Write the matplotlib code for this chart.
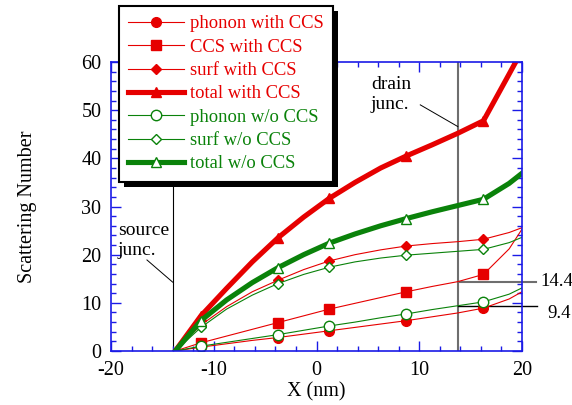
import matplotlib
matplotlib.use("Agg")
import matplotlib.pyplot as plt
from matplotlib.patches import Rectangle
from matplotlib.ticker import MultipleLocator

plt.rcParams['font.family'] = 'Liberation Serif'
plt.rcParams['axes.unicode_minus'] = False

# position along channel (nm), markers only every few points
x = [-13.75, -11.25, -8.75, -6.25, -3.75, -1.25, 1.25, 3.75, 6.25, 8.75,
     11.25, 13.75, 16.25, 18.75, 20.0]
marker_idx = [1, 4, 6, 9, 12]

phonon_w = [0, 0.8, 1.5, 2.2, 2.8, 3.5, 4.2, 4.9, 5.6, 6.3, 7.1, 7.9, 8.9, 10.8, 12.3]
ccs_w = [0, 1.7, 3.1, 4.5, 5.9, 7.3, 8.7, 9.9, 11.1, 12.3, 13.4, 14.4, 15.9, 21.2, 25.3]
surf_w = [0, 5.4, 9.2, 12.3, 14.7, 16.9, 18.7, 20.0, 21.0, 21.8, 22.3, 22.7, 23.2, 24.6, 25.6]
total_w = [0, 7.3, 13.0, 18.5, 23.5, 27.8, 31.7, 35.0, 38.0, 40.5, 42.8, 45.2, 47.8, 57.5, 62.4]
phonon_wo = [0, 1.0, 1.8, 2.6, 3.4, 4.3, 5.2, 6.0, 6.9, 7.7, 8.6, 9.4, 10.2, 11.8, 13.1]
surf_wo = [0, 4.9, 8.7, 11.6, 14.0, 15.9, 17.4, 18.5, 19.3, 19.9, 20.3, 20.7, 21.1, 22.5, 23.6]
total_wo = [0, 6.3, 10.6, 14.2, 17.3, 20.0, 22.4, 24.3, 26.0, 27.5, 28.9, 30.2, 31.5, 34.8, 36.9]

source_x = -14.0
drain_x = 13.75
ccs_at_drain = 14.4
phonon_at_drain = 9.4

RED = '#e60000'
GREEN = '#0a820a'
BLUE = '#1a1ae6'

fig = plt.figure(figsize=(5.72, 4.05), dpi=100)
ax = fig.add_axes([111/572, 1-351/405, 411/572, 289/405])

series = [
    ("phonon with CCS", phonon_w, RED, 'o', 0.8, 7.0, True),
    ("CCS with CCS", ccs_w, RED, 's', 0.8, 6.5, True),
    ("surf with CCS", surf_w, RED, 'D', 0.8, 5.5, True),
    ("total with CCS", total_w, RED, '^', 3.7, 7.5, True),
    ("phonon w/o CCS", phonon_wo, GREEN, 'o', 0.8, 7.5, False),
    ("surf w/o CCS", surf_wo, GREEN, 'D', 0.8, 5.5, False),
    ("total w/o CCS", total_wo, GREEN, '^', 3.7, 7.5, False),
]

handles = []
for label, y, c, m, lw, ms, filled in series:
    h, = ax.plot(x, y, color=c, lw=lw, marker=m, ms=ms, markevery=marker_idx,
                 markerfacecolor=c if filled else 'white', markeredgecolor=c,
                 markeredgewidth=1.0, label=label)
    handles.append(h)

# junction markers
ax.axvline(source_x, color='black', lw=0.8, zorder=1)
ax.axvline(drain_x, color='#6e6e6e', lw=1.5, zorder=1)
ax.plot([drain_x, 21.4], [ccs_at_drain, ccs_at_drain], color='#6e6e6e', lw=1.5,
        clip_on=False, zorder=1)
ax.plot([drain_x, 21.5], [phonon_at_drain, phonon_at_drain], color='black', lw=1.0,
        clip_on=False, zorder=1)
ax.text(21.75, ccs_at_drain, "14.4", fontsize=13.5, ha='left', va='center')
ax.text(22.5, phonon_at_drain + 0.1, "9.4", fontsize=13.5, ha='left', va='top')

ax.text(-19.35, 26.8, "source\njunc.", fontsize=14, ha='left', va='top', linespacing=1.2)
ax.plot([-16.5, source_x], [18.9, 14.3], color='black', lw=0.7)
ax.text(5.3, 57.0, "drain\njunc.", fontsize=14, ha='left', va='top', linespacing=1.2)
ax.plot([10.1, drain_x], [51.1, 46.6], color='black', lw=0.7)

ax.set_xlim(-20, 20)
ax.set_ylim(0, 60)
ax.xaxis.set_major_locator(MultipleLocator(10))
ax.xaxis.set_minor_locator(MultipleLocator(2))
ax.yaxis.set_major_locator(MultipleLocator(10))
ax.yaxis.set_minor_locator(MultipleLocator(2))
ax.tick_params(which='both', direction='in', top=True, right=True, color=BLUE,
               labelsize=14.5, pad=7)
ax.tick_params(which='major', length=7, width=1)
ax.tick_params(which='minor', length=3.5, width=1)
for s in ax.spines.values():
    s.set_color(BLUE)
    s.set_linewidth(1.2)

ax.set_xlabel("X (nm)", fontsize=14.5, labelpad=2)
ax.set_ylabel("Scattering Number", fontsize=14.5, labelpad=32)

leg = fig.legend(handles=handles, loc='upper left', bbox_to_anchor=(119/572, 1-6/405),
                 borderaxespad=0, fancybox=False, edgecolor='black', framealpha=1,
                 fontsize=13.4, labelcolor='linecolor', handlelength=3.0,
                 handletextpad=0.3, borderpad=0.5, labelspacing=0.34)
leg.get_frame().set_linewidth(1.5)
leg.set_zorder(10)

# solid black drop shadow behind legend box
fig.canvas.draw()
bb = leg.get_window_extent()
W, H = fig.bbox.width, fig.bbox.height
shadow = Rectangle(((bb.x0 + 5) / W, (bb.y0 - 5) / H), bb.width / W, bb.height / H,
                   transform=fig.transFigure, facecolor='black', edgecolor='none', zorder=9)
fig.add_artist(shadow)

fig.savefig("out.png", dpi=100)
